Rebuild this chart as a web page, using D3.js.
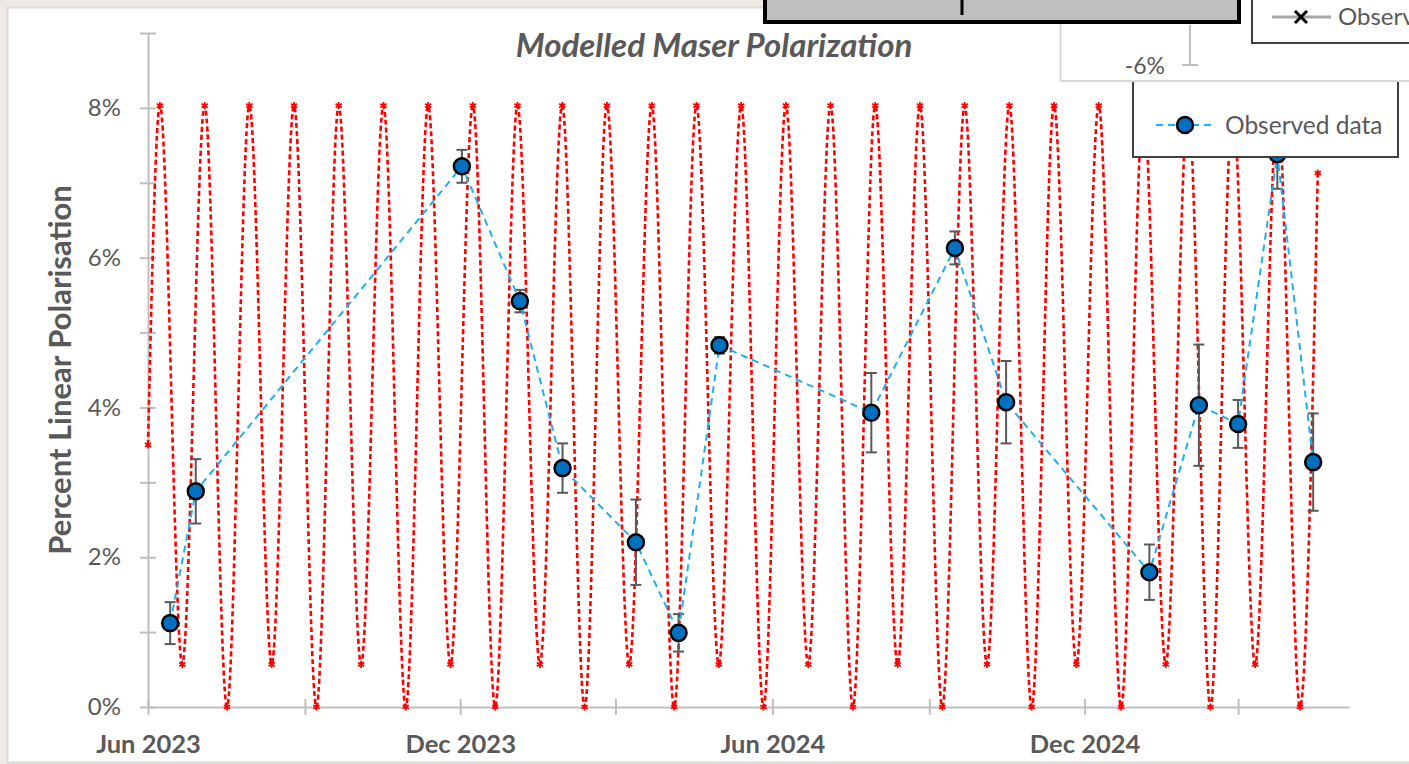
<!DOCTYPE html>
<html>
<head>
<meta charset="utf-8">
<script src="https://cdn.jsdelivr.net/npm/d3@7"></script>
<style>
body { margin: 0; background: #edeae4; overflow: hidden; }
svg { display: block; font-family: Lato, "Noto Sans", sans-serif; }
</style>
</head>
<body>
<svg id="chart"></svg>
<script>
var WIDTH = 1409
var HEIGHT = 764

// observed points (date, % linear polarisation, error)
var obsDates = ["2023-06-14", "2023-06-29", "2023-12-02", "2024-01-05", "2024-01-30", "2024-03-13", "2024-04-07", "2024-05-01",
                "2024-07-29", "2024-09-16", "2024-10-16", "2025-01-08", "2025-02-06", "2025-03-01", "2025-03-24", "2025-04-14"]
var obsValues = [1.12, 2.88, 7.22, 5.42, 3.19, 2.20, 0.99, 4.83, 3.93, 6.13, 4.07, 1.80, 4.03, 3.78, 7.38, 3.27]
var obsErrors = [0.28, 0.43, 0.22, 0.15, 0.33, 0.57, 0.25, 0.11, 0.53, 0.22, 0.55, 0.37, 0.81, 0.32, 0.46, 0.65]

// model curve turning points, days after 1 Jun 2023
var modelDay = [0, 7.0, 20.1, 33.2, 46.3, 59.4, 72.5, 85.6, 98.7, 111.8, 124.9, 138.0, 151.1, 164.2, 177.3, 190.4,
                203.5, 216.6, 229.7, 242.8, 255.9, 269.0, 282.1, 295.3, 308.4, 321.5, 334.6, 347.7, 360.8, 373.9, 387.0,
                400.1, 413.2, 426.3, 439.4, 452.5, 465.6, 478.7, 491.8, 504.9, 518.0, 531.1, 544.2, 557.3, 570.4, 583.5,
                596.6, 609.7, 622.8, 635.9, 649.0, 662.2, 675.3, 685.7]
var modelValue = [3.5,
                  8.03, 0.57, 8.03, 0, 8.03, 0.57, 8.03, 0, 8.03, 0.57, 8.03, 0, 8.03, 0.57, 8.03, 0,
                  8.03, 0.57, 8.03, 0, 8.03, 0.57, 8.03, 0, 8.03, 0.57, 8.03, 0, 8.03, 0.57, 8.03, 0,
                  8.03, 0.57, 8.03, 0, 8.03, 0.57, 8.03, 0, 8.03, 0.57, 8.03, 0, 8.03, 0.57, 8.03, 0,
                  8.03, 0.57, 8.03, 0,
                  7.13]

var xTicks = ["2023-06-01", "2023-09-01", "2023-12-01", "2024-03-01", "2024-06-01", "2024-09-01", "2024-12-01", "2025-03-01"]
var xLabels = ["Jun 2023", "", "Dec 2023", "", "Jun 2024", "", "Dec 2024", ""]
var yTicks = [0, 1, 2, 3, 4, 5, 6, 7, 8, 9]

var parse = d3.utcParse("%Y-%m-%d")
var start = parse("2023-06-01")

var svg = d3.select("#chart").attr("width", WIDTH).attr("height", HEIGHT)

// chart area
svg.append("rect")
	.attr("x", 7.5).attr("y", 7.5).attr("width", 1430).attr("height", 755)
	.attr("fill", "#fff").attr("stroke", "#d9d9d9").attr("stroke-width", 2)

var x = d3.scaleUtc().domain([start, parse("2025-05-05")]).range([148, 1349])
var y = d3.scaleLinear().domain([0, 9]).range([707, 33])

// title
svg.append("text")
	.attr("x", 714).attr("y", 57)
	.attr("text-anchor", "middle")
	.attr("font-size", 33).attr("font-weight", "bold").attr("font-style", "italic")
	.attr("fill", "#595959")
	.text("Modelled Maser Polarization")

svg.append("text")
	.attr("transform", "translate(71,370) rotate(-90)")
	.attr("text-anchor", "middle")
	.attr("font-size", 31).attr("font-weight", "bold")
	.attr("fill", "#595959")
	.text("Percent Linear Polarisation")

// axes
var yAxis = d3.axisLeft(y).tickValues(yTicks).tickSizeInner(8).tickSizeOuter(0).tickPadding(19)
	.tickFormat(function(d){ return (d % 2 == 0 && d < 9) ? d + "%" : "" })
var gy = svg.append("g").attr("transform", "translate(148,0)").call(yAxis)
gy.selectAll(".tick line").attr("x1", 8).attr("x2", -8)

var xAxis = d3.axisBottom(x).tickValues(xTicks.map(parse)).tickSizeInner(8).tickSizeOuter(0)
	.tickFormat(function(d, i){ return xLabels[i] })
var gx = svg.append("g").attr("transform", "translate(0,707)").call(xAxis)
gx.selectAll(".tick line").attr("y1", -8).attr("y2", 8)
gx.selectAll(".tick text").attr("y", 37).attr("dy", "0.35em").attr("font-weight", "bold")

svg.selectAll(".domain, .tick line").attr("stroke", "#bfbfbf").attr("stroke-width", 2)
svg.selectAll(".tick text").attr("fill", "#595959").attr("font-size", 24).attr("font-family", "Lato, 'Noto Sans', sans-serif")
gx.selectAll(".tick text").attr("font-size", 25.5)

// model curve
var model = modelDay.map(function(d, i){ return {date: d3.utcHour.offset(start, Math.round(d * 24)), v: modelValue[i]} })
var line = d3.line().x(function(d){ return x(d.date) }).y(function(d){ return y(d.v) }).curve(d3.curveMonotoneX)
svg.append("path")
	.datum(model)
	.attr("d", line)
	.attr("fill", "none").attr("stroke", "#ff0000").attr("stroke-width", 2.6)
	.attr("stroke-dasharray", "5,3")
svg.selectAll(".mstar")
	.data(model)
	.enter()
	.append("path")
	.attr("class", "mstar")
	.attr("transform", function(d){ return "translate(" + x(d.date) + "," + y(d.v) + ")" })
	.attr("d", d3.symbol(d3.symbolAsterisk, 36))
	.attr("fill", "none").attr("stroke", "#ff0000").attr("stroke-width", 1.8)

// observed data
var obs = obsDates.map(function(d, i){ return {date: parse(d), v: obsValues[i], e: obsErrors[i]} })
var bars = svg.selectAll(".err").data(obs).enter().append("g").attr("class", "err")
	.attr("stroke", "#595959").attr("stroke-width", 2)
bars.append("line")
	.attr("x1", function(d){ return x(d.date) }).attr("x2", function(d){ return x(d.date) })
	.attr("y1", function(d){ return y(d.v + d.e) }).attr("y2", function(d){ return y(d.v - d.e) })
bars.append("line")
	.attr("x1", function(d){ return x(d.date) - 5.5 }).attr("x2", function(d){ return x(d.date) + 5.5 })
	.attr("y1", function(d){ return y(d.v + d.e) }).attr("y2", function(d){ return y(d.v + d.e) })
bars.append("line")
	.attr("x1", function(d){ return x(d.date) - 5.5 }).attr("x2", function(d){ return x(d.date) + 5.5 })
	.attr("y1", function(d){ return y(d.v - d.e) }).attr("y2", function(d){ return y(d.v - d.e) })

var obsLine = d3.line().x(function(d){ return x(d.date) }).y(function(d){ return y(d.v) })
svg.append("path")
	.datum(obs)
	.attr("d", obsLine)
	.attr("fill", "none").attr("stroke", "#1cb0ef").attr("stroke-width", 2)
	.attr("stroke-dasharray", "7,5")
svg.selectAll(".dot")
	.data(obs)
	.enter()
	.append("circle")
	.attr("class", "dot")
	.attr("cx", function(d){ return x(d.date) })
	.attr("cy", function(d){ return y(d.v) })
	.attr("r", 8)
	.attr("fill", "#0070c0").attr("stroke", "#000").attr("stroke-width", 2.5)

// legend
var leg = svg.append("g")
leg.append("rect").attr("x", 1133).attr("y", 60).attr("width", 265).attr("height", 97)
	.attr("fill", "#fff").attr("stroke", "#404040").attr("stroke-width", 2)
leg.append("line").attr("x1", 1155).attr("x2", 1214).attr("y1", 125).attr("y2", 125)
	.attr("stroke", "#1cb0ef").attr("stroke-width", 2).attr("stroke-dasharray", "7,5").attr("stroke-dashoffset", -1)
leg.append("circle").attr("cx", 1185).attr("cy", 125).attr("r", 8)
	.attr("fill", "#0070c0").attr("stroke", "#000").attr("stroke-width", 2.5)
leg.append("text").attr("x", 1225).attr("y", 125).attr("dy", "0.35em")
	.attr("font-size", 24.5).attr("fill", "#595959").text("Observed data")

// bits of other charts lying over this one
var other = svg.append("g")
other.append("rect").attr("x", 1060.5).attr("y", -10).attr("width", 400).attr("height", 91)
	.attr("fill", "#fff").attr("stroke", "#d9d9d9").attr("stroke-width", 2)
other.append("line").attr("x1", 1190).attr("x2", 1190).attr("y1", 25).attr("y2", 65)
	.attr("stroke", "#bfbfbf").attr("stroke-width", 2)
other.append("line").attr("x1", 1182).attr("x2", 1198).attr("y1", 65).attr("y2", 65)
	.attr("stroke", "#bfbfbf").attr("stroke-width", 2)
other.append("text").attr("x", 1165).attr("y", 66).attr("dy", "0.35em").attr("text-anchor", "end")
	.attr("font-size", 23).attr("fill", "#595959").text("-6%")

other.append("rect").attr("x", 765).attr("y", -10).attr("width", 474).attr("height", 32)
	.attr("fill", "#bfbfbf").attr("stroke", "#000").attr("stroke-width", 4)
other.append("line").attr("x1", 962).attr("x2", 962).attr("y1", 0).attr("y2", 15)
	.attr("stroke", "#000").attr("stroke-width", 3)

other.append("rect").attr("x", 1252).attr("y", -10).attr("width", 200).attr("height", 53)
	.attr("fill", "#fff").attr("stroke", "#404040").attr("stroke-width", 2)
other.append("line").attr("x1", 1272).attr("x2", 1331).attr("y1", 17).attr("y2", 17)
	.attr("stroke", "#a6a6a6").attr("stroke-width", 3)
other.append("path").attr("transform", "translate(1301,17)").attr("d", "M-6,-6L6,6M-6,6L6,-6")
	.attr("stroke", "#000").attr("stroke-width", 3)
other.append("text").attr("x", 1338).attr("y", 17).attr("dy", "0.35em")
	.attr("font-size", 24).attr("fill", "#595959").text("Observed data")
</script>
</body>
</html>
